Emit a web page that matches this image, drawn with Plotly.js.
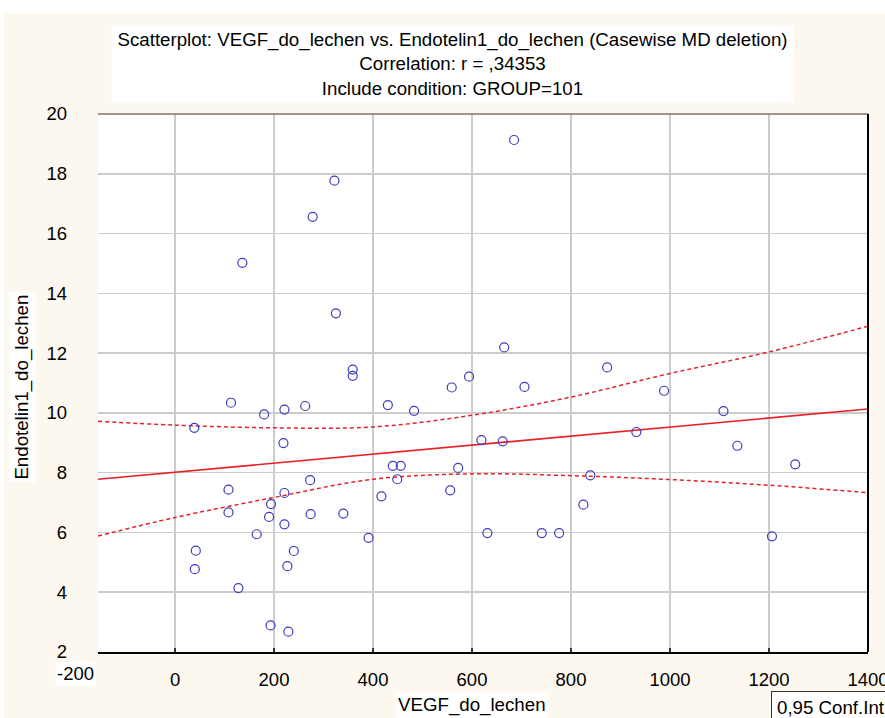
<!DOCTYPE html>
<html>
<head>
<meta charset="utf-8">
<script src="https://cdn.plot.ly/plotly-3.0.1.min.js"></script>
<style>html,body{margin:0;padding:0;background:#fff;}#chart{width:885px;height:718px;}</style>
</head>
<body>
<div id="chart"></div>
<script>
// ---- data ----
const vegf = [685,322,278,136,325,359,359,665,706,873,594,559,113,180,221,263,39,219,273,108,221,194,108,190,274,340,221,165,391,42,240,40,227,128,193,229,430,483,988,619,662,440,456,572,449,839,932,417,556,825,631,741,776,1108,1136,1253,1206];
const endotelin = [19.13,17.77,16.56,15.02,13.33,11.45,11.24,12.19,10.87,11.52,11.21,10.85,10.34,9.95,10.11,10.23,9.50,8.99,7.75,7.43,7.32,6.95,6.67,6.52,6.61,6.63,6.27,5.94,5.82,5.39,5.38,4.77,4.87,4.14,2.89,2.68,10.26,10.07,10.74,9.09,9.05,8.23,8.23,8.16,7.78,7.91,9.36,7.21,7.41,6.93,5.98,5.98,5.98,10.06,8.90,8.28,5.87];

const fitX = [-155.6, 1400];
const fitY = [7.78, 10.13];

const ciX = [-155.6, 0, 200, 400, 600, 800, 1000, 1200, 1400];
const ciUpper = [9.72, 9.59, 9.50, 9.53, 9.92, 10.53, 11.32, 12.04, 12.90];
const ciLower = [5.88, 6.50, 7.17, 7.78, 7.96, 7.90, 7.77, 7.58, 7.33];

const xTickVals = [0, 200, 400, 600, 800, 1000, 1200, 1400];
const xTickText = ['0','200','400','600','800','1000','1200','1400'];
const yTickVals = [2,4,6,8,10,12,14,16,18,20];
const yTickText = ['2','4','6','8','10','12','14','16','18','20'];
const cornerXLabel = '-200';

const titleLines = [
  'Scatterplot: VEGF_do_lechen vs. Endotelin1_do_lechen (Casewise MD deletion)',
  'Correlation: r = ,34353',
  'Include condition: GROUP=101'
];
const xTitle = 'VEGF_do_lechen';
const yTitle = 'Endotelin1_do_lechen';
const legendText = '0,95 Conf.Int';

// ---- layout geometry (pixels) ----
const W = 885, H = 718;
const L = 98, R = 867.7, T = 114, B = 651.7;
const px = x => (x - L) / (R - L);
const py = y => (B - y) / (B - T);

const FONT = 'Arial, "Liberation Sans", sans-serif';
const red = 'rgb(232,32,40)';

const traces = [
  {x: ciX, y: ciUpper, type: 'scatter', mode: 'lines', line: {color: red, width: 1.5, dash: '4px,3px', shape: 'spline'}, hoverinfo: 'skip'},
  {x: ciX, y: ciLower, type: 'scatter', mode: 'lines', line: {color: red, width: 1.5, dash: '4px,3px', shape: 'spline'}, hoverinfo: 'skip'},
  {x: fitX, y: fitY, type: 'scatter', mode: 'lines', line: {color: red, width: 1.6}, hoverinfo: 'skip'},
  {x: vegf, y: endotelin, type: 'scatter', mode: 'markers',
   marker: {symbol: 'circle-open', size: 9, color: '#3c3cbe', line: {width: 1.2, color: '#3c3cbe'}}}
];

const layout = {
  width: W, height: H,
  margin: {l: L, r: W - R, t: T, b: H - B, pad: 0},
  paper_bgcolor: '#fcf8ef',
  plot_bgcolor: '#ffffff',
  showlegend: false,
  font: {family: FONT, color: '#000', size: 18.5},
  xaxis: {
    range: [-155.6, 1400], tickvals: xTickVals, ticktext: xTickText,
    showgrid: true, gridcolor: '#cccccc', gridwidth: 1.5,
    zeroline: false, showline: true, linecolor: '#000', linewidth: 2,
    ticks: 'inside', ticklen: 4, tickcolor: '#333', tickwidth: 1.5,
    ticklabelstandoff: 10, ticklabeloverflow: 'allow',
    tickfont: {family: FONT, size: 18.5, color: '#000'}
  },
  yaxis: {
    range: [2, 20], tickvals: yTickVals, ticktext: yTickText,
    showgrid: true, gridcolor: '#cccccc', gridwidth: 1.5,
    zeroline: false, showline: false, ticks: '',
    ticklabelstandoff: 30, ticklabeloverflow: 'allow',
    tickfont: {family: FONT, size: 18.5, color: '#000'}
  },
  shapes: [
    {type: 'rect', xref: 'paper', yref: 'paper', x0: px(0), x1: px(W), y0: py(13), y1: py(0), fillcolor: '#ffffff', line: {width: 0}, layer: 'above'},
    {type: 'rect', xref: 'paper', yref: 'paper', x0: px(0), x1: px(4), y0: py(H), y1: py(0), fillcolor: '#ffffff', line: {width: 0}, layer: 'above'},
    {type: 'line', xref: 'paper', yref: 'paper', x0: 0, x1: 1, y0: 1, y1: 1, line: {color: '#7d7568', width: 1.5}},
    {type: 'line', xref: 'paper', yref: 'paper', x0: 1, x1: 1, y0: 0, y1: 1, line: {color: '#000', width: 2}}
  ],
  annotations: [
    {text: titleLines.join('<br>'), xref: 'paper', yref: 'paper', x: px(452), y: py(64),
     xanchor: 'center', yanchor: 'middle', showarrow: false, bgcolor: '#ffffff',
     width: 679, height: 74, borderpad: 1, font: {family: FONT, size: 18.7, color: '#000'}},
    {text: yTitle, xref: 'paper', yref: 'paper', x: px(22), y: py(386.5), textangle: -90,
     xanchor: 'center', yanchor: 'middle', showarrow: false, bgcolor: '#ffffff', borderpad: 2,
     font: {family: FONT, size: 18.7, color: '#000'}},
    {text: xTitle, xref: 'paper', yref: 'paper', x: px(472), y: py(705),
     xanchor: 'center', yanchor: 'middle', showarrow: false, bgcolor: '#ffffff', borderpad: 2,
     font: {family: FONT, size: 18.7, color: '#000'}},
    {text: legendText, xref: 'paper', yref: 'paper', x: px(771), y: py(691),
     xanchor: 'left', yanchor: 'top', showarrow: false, bgcolor: '#ffffff',
     bordercolor: '#333333', borderwidth: 1, borderpad: 5,
     font: {family: FONT, size: 18.7, color: '#000'}},
    {text: cornerXLabel, xref: 'paper', yref: 'paper', x: px(96), y: py(673),
     xanchor: 'right', yanchor: 'middle', showarrow: false, bgcolor: '#ffffff', borderpad: 1,
     font: {family: FONT, size: 18.5, color: '#000'}}
  ]
};

Plotly.newPlot('chart', traces, layout, {displayModeBar: false, staticPlot: true});
</script>
</body>
</html>
